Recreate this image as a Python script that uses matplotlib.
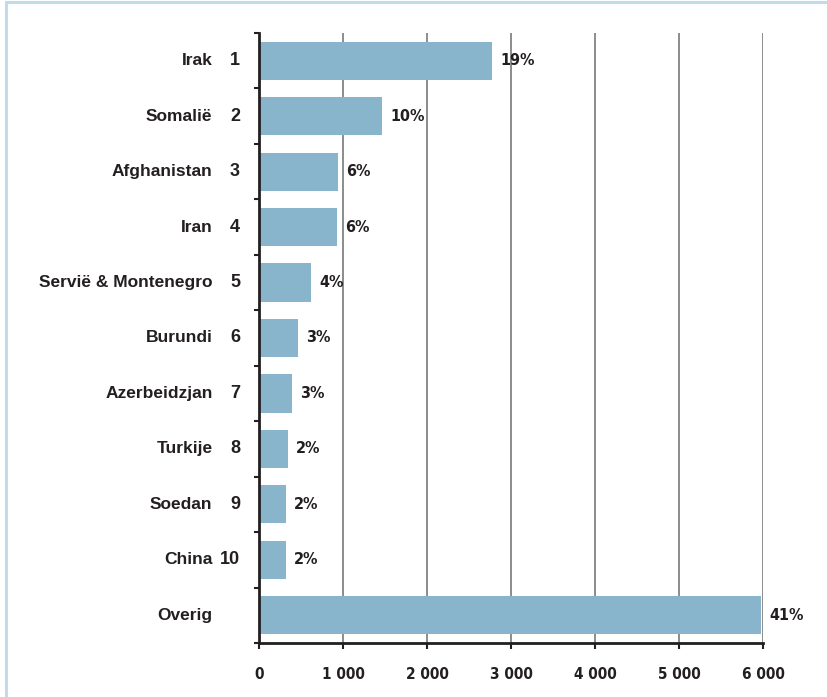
import numpy as np
import matplotlib
matplotlib.use('Agg')
import matplotlib.pyplot as plt
from matplotlib.patches import Rectangle

# data
countries = ['Irak', 'Somalië', 'Afghanistan', 'Iran', 'Servië & Montenegro',
             'Burundi', 'Azerbeidzjan', 'Turkije', 'Soedan', 'China', 'Overig']
ranks = ['1', '2', '3', '4', '5', '6', '7', '8', '9', '10', '']
values = [2770, 1460, 940, 930, 615, 462, 390, 342, 318, 318, 5975]
shares = ['19%', '10%', '6%', '6%', '4%', '3%', '3%', '2%', '2%', '2%', '41%']
xticks = [0, 1000, 2000, 3000, 4000, 5000, 6000]
xticklabels = ['0', '1 000', '2 000', '3 000', '4 000', '5 000', '6 000']

wide = ['Liberation Sans', 'DejaVu Sans']
dark = '#231f20'
barcol = '#88b4cc'

fig = plt.figure(figsize=(8.27, 6.97), dpi=100)
ax = fig.add_axes([259/827, 1-643/697, (763-259)/827, (643-33)/697])

y = np.arange(len(countries))
ax.barh(y, values, height=0.69, color=barcol, zorder=2)

ax.set_xlim(0, 6000)
ax.set_ylim(len(countries)-0.5, -0.5)

ax.set_axisbelow(True)
ax.xaxis.grid(True, color='#8c8c8c', linewidth=1.4)
ax.set_xticks(xticks)
ax.set_xticklabels(xticklabels, family='DejaVu Sans', fontstretch='condensed',
                   fontweight='bold', fontsize=11, color=dark)
ax.set_yticks(np.arange(-0.5, len(countries), 1))
ax.set_yticklabels([])
ax.tick_params(axis='x', length=4, width=1.5, pad=13, color=dark)
ax.tick_params(axis='y', length=3.6, width=1.5, color=dark)

for s in ['top', 'right']:
    ax.spines[s].set_visible(False)
for s in ['left', 'bottom']:
    ax.spines[s].set_linewidth(2)
    ax.spines[s].set_color(dark)

for i in range(len(countries)):
    ax.annotate(countries[i], xy=(0, i), xytext=(-33.5, 0), textcoords='offset points',
                ha='right', va='center', family=wide, fontweight='bold',
                fontsize=12.5, color=dark, annotation_clip=False)
    ax.annotate(ranks[i], xy=(0, i), xytext=(-13.7, 0), textcoords='offset points',
                ha='right', va='center', family=wide, fontweight='bold',
                fontsize=13, color=dark, annotation_clip=False)
    ax.annotate(shares[i], xy=(values[i], i), xytext=(6, 0), textcoords='offset points',
                ha='left', va='center', family='DejaVu Sans', fontstretch='condensed',
                fontweight='bold', fontsize=11.5, color=dark, annotation_clip=False)

# light blue frame (left and top edges visible)
fig.add_artist(Rectangle((5.5/827, -0.1), 1.2, 1.1 - 1.5/697, transform=fig.transFigure,
                         fill=False, edgecolor='#c2dbea', linewidth=2.2))

fig.savefig('out.png', dpi=100)
